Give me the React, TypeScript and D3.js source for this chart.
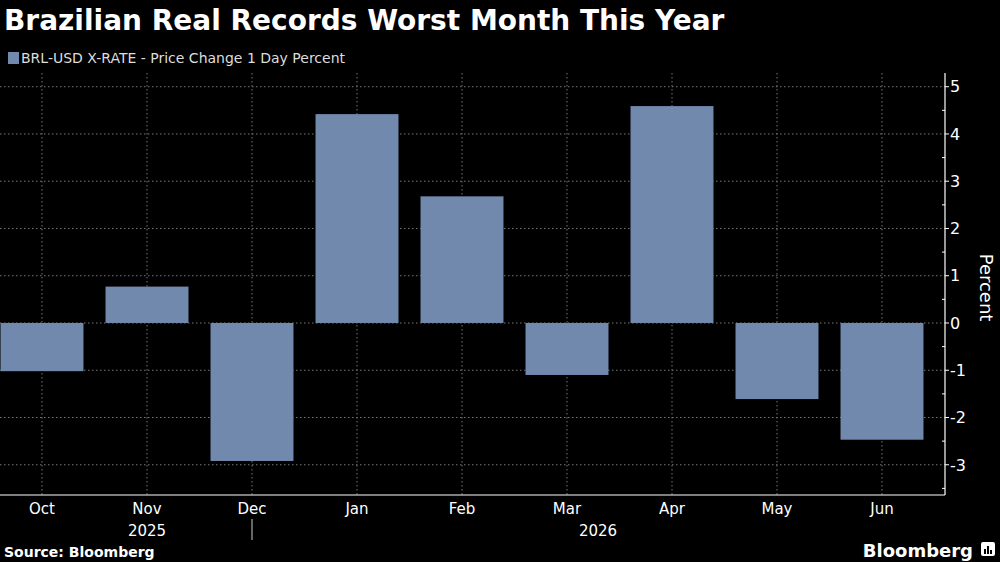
import * as d3 from "d3";
import { useEffect, useRef } from "react";

const months = ["Oct", "Nov", "Dec", "Jan", "Feb", "Mar", "Apr", "May", "Jun"];
const changes = [-1.02, 0.77, -2.92, 4.42, 2.68, -1.1, 4.59, -1.61, -2.47];
const yTicks = [-3, -2, -1, 0, 1, 2, 3, 4, 5];
const years = [
  { label: "2025", at: "Nov" },
  { label: "2026", at: "Mar" },
];

export default function App() {
  const ref = useRef<SVGSVGElement | null>(null);

  useEffect(() => {
    const svg = d3.select(ref.current);
    svg.selectAll("*").remove();

    const width = 1000;
    const height = 562;
    const axisX = 945;
    const font = "'DejaVu Sans', sans-serif";

    svg.attr("width", width).attr("height", height);
    svg.append("rect").attr("width", width).attr("height", height).attr("fill", "#000");

    const x = d3
      .scaleBand<string>()
      .domain(months)
      .range([-10.5, 934.5])
      .paddingInner(0.21)
      .paddingOuter(0.105);
    const y = d3.scaleLinear().domain([-3.64, 5.29]).range([495, 73]);
    const mid = (m: string) => x(m)! + x.bandwidth() / 2;

    svg
      .append("defs")
      .append("clipPath")
      .attr("id", "plot")
      .append("rect")
      .attr("x", 0)
      .attr("y", y(5.29))
      .attr("width", axisX)
      .attr("height", y(-3.64) - y(5.29));

    // grid
    const grid = svg.append("g").attr("stroke", "#777").attr("stroke-dasharray", "1.5,2.5");
    grid
      .selectAll("line.h")
      .data(yTicks)
      .enter()
      .append("line")
      .attr("x1", 0)
      .attr("x2", axisX)
      .attr("y1", (d) => y(d))
      .attr("y2", (d) => y(d));
    grid
      .selectAll("line.v")
      .data(months)
      .enter()
      .append("line")
      .attr("x1", (d) => mid(d))
      .attr("x2", (d) => mid(d))
      .attr("y1", y(5.29))
      .attr("y2", y(-3.64));

    // bars
    svg
      .append("g")
      .attr("clip-path", "url(#plot)")
      .selectAll("rect")
      .data(months)
      .enter()
      .append("rect")
      .attr("x", (d) => x(d)!)
      .attr("width", x.bandwidth())
      .attr("y", (d, i) => y(Math.max(0, changes[i])))
      .attr("height", (d, i) => Math.abs(y(changes[i]) - y(0)))
      .attr("fill", "#7189ad");

    // axes
    svg
      .append("line")
      .attr("x1", 0)
      .attr("x2", axisX)
      .attr("y1", y(-3.64))
      .attr("y2", y(-3.64))
      .attr("stroke", "#fff")
      .attr("stroke-width", 1.2);
    svg
      .append("line")
      .attr("x1", axisX)
      .attr("x2", axisX)
      .attr("y1", y(5.29))
      .attr("y2", y(-3.64))
      .attr("stroke", "#fff")
      .attr("stroke-width", 1.2);

    const yAxis = svg.append("g");
    yAxis
      .selectAll("line.major")
      .data(yTicks)
      .enter()
      .append("line")
      .attr("x1", axisX)
      .attr("x2", axisX + 4)
      .attr("y1", (d) => y(d))
      .attr("y2", (d) => y(d))
      .attr("stroke", "#fff");
    yAxis
      .selectAll("line.minor")
      .data(yTicks.map((d) => d - 0.5).concat([5.5]).filter((d) => d > -3.64 && d < 5.29))
      .enter()
      .append("line")
      .attr("x1", axisX - 3)
      .attr("x2", axisX)
      .attr("y1", (d) => y(d))
      .attr("y2", (d) => y(d))
      .attr("stroke", "#fff");
    yAxis
      .selectAll("text")
      .data(yTicks)
      .enter()
      .append("text")
      .attr("x", axisX + 5)
      .attr("y", (d) => y(d))
      .attr("dy", "0.36em")
      .attr("fill", "#fff")
      .style("font-family", font)
      .style("font-size", "16px")
      .text((d) => String(d));

    svg
      .append("text")
      .attr("transform", `translate(980, ${y(0.75)}) rotate(90)`)
      .attr("text-anchor", "middle")
      .attr("fill", "#fff")
      .style("font-family", font)
      .style("font-size", "18px")
      .text("Percent");

    // x labels
    svg
      .append("g")
      .selectAll("text")
      .data(months)
      .enter()
      .append("text")
      .attr("x", (d) => mid(d))
      .attr("y", 514)
      .attr("text-anchor", "middle")
      .attr("fill", "#fff")
      .style("font-family", font)
      .style("font-size", "15px")
      .text((d) => d);
    svg
      .append("g")
      .selectAll("text")
      .data(years)
      .enter()
      .append("text")
      .attr("x", (d) => (d.label === "2025" ? mid(d.at) : 598))
      .attr("y", 536)
      .attr("text-anchor", "middle")
      .attr("fill", "#fff")
      .style("font-family", font)
      .style("font-size", "15px")
      .text((d) => d.label);
    svg
      .append("line")
      .attr("x1", mid("Dec"))
      .attr("x2", mid("Dec"))
      .attr("y1", 519)
      .attr("y2", 540)
      .attr("stroke", "#ccc");

    // title + legend
    svg
      .append("text")
      .attr("x", 4)
      .attr("y", 30)
      .attr("fill", "#fff")
      .style("font-family", font)
      .style("font-weight", "bold")
      .style("font-size", "28px")
      .text("Brazilian Real Records Worst Month This Year");
    svg
      .append("rect")
      .attr("x", 8)
      .attr("y", 52)
      .attr("width", 11)
      .attr("height", 12)
      .attr("fill", "#7189ad");
    svg
      .append("text")
      .attr("x", 21)
      .attr("y", 63)
      .attr("fill", "#ddd")
      .style("font-family", font)
      .style("font-size", "14px")
      .text("BRL-USD X-RATE - Price Change 1 Day Percent");

    // footer
    svg
      .append("text")
      .attr("x", 4)
      .attr("y", 557)
      .attr("fill", "#fff")
      .style("font-family", font)
      .style("font-weight", "bold")
      .style("font-size", "14px")
      .text("Source: Bloomberg");
    svg
      .append("text")
      .attr("x", 973)
      .attr("y", 557)
      .attr("text-anchor", "end")
      .attr("fill", "#fff")
      .style("font-family", font)
      .style("font-weight", "bold")
      .style("font-size", "18px")
      .text("Bloomberg");
    const logo = svg.append("g").attr("transform", "translate(981, 542)");
    logo.append("rect").attr("width", 14).attr("height", 14).attr("rx", 2).attr("fill", "#fff");
    logo
      .selectAll("rect.bar")
      .data([5, 8, 4])
      .enter()
      .append("rect")
      .attr("x", (d, i) => 3 + i * 3)
      .attr("y", (d) => 12 - d)
      .attr("width", 2)
      .attr("height", (d) => d)
      .attr("fill", "#000");
  }, []);

  return (
    <div style={{ position: "fixed", left: 0, top: 0, width: 1000, height: 562, background: "#000" }}>
      <svg ref={ref} style={{ display: "block" }}></svg>
    </div>
  );
}
